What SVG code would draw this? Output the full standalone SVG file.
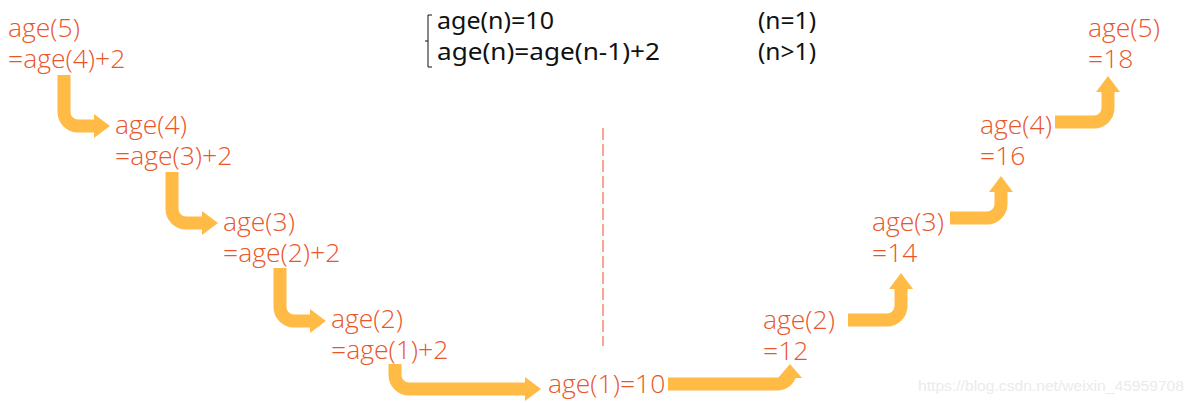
<svg xmlns="http://www.w3.org/2000/svg" width="1193" height="403" viewBox="0 0 1193 403">
<style>
.t{font-family:"Open Sans","Noto Sans","Liberation Sans",sans-serif;font-weight:350;font-size:26.5px;fill:#E9562B}
.f{font-family:"Noto Sans","Liberation Sans",sans-serif;font-size:23px;fill:#111}
.w{font-family:"Liberation Sans",Arial,sans-serif;font-size:15px;fill:#EBEBEB}
.a{fill:none;stroke:#FFBB46;stroke-width:13}
.h{fill:#FFBB46}
</style>
<rect width="1193" height="403" fill="#fff"/>
<g id="formula">
<path d="M432,15 H428 V67 H432 M428,41 H425" fill="none" stroke="#111" stroke-width="1"/>
<text class="f" x="437" y="29" textLength="117" lengthAdjust="spacingAndGlyphs">age(n)=10</text>
<text class="f" x="437" y="60" textLength="223" lengthAdjust="spacingAndGlyphs">age(n)=age(n-1)+2</text>
<text class="f" x="758" y="29" textLength="58" lengthAdjust="spacingAndGlyphs">(n=1)</text>
<text class="f" x="758" y="60" textLength="58" lengthAdjust="spacingAndGlyphs">(n&gt;1)</text>
</g>
<line id="divider" x1="603" y1="128" x2="603" y2="346" stroke="#F4A893" stroke-width="2" stroke-dasharray="12 4"/>
<g id="connectors">
<path class="a" d="M64,75 V112 A14,14 0 0 0 78,126 H95"/>
<polygon class="h" points="94,114 110,126 94,138"/>
<path class="a" d="M172,172 V209 A14,14 0 0 0 186,223 H203"/>
<polygon class="h" points="202,211 218,223 202,235"/>
<path class="a" d="M280,268 V307 A14,14 0 0 0 294,321 H311"/>
<polygon class="h" points="310,309 326,321 310,333"/>
<path class="a" d="M395,364 V375 A14,14 0 0 0 409,389 H526"/>
<polygon class="h" points="525,377 541,389 525,401"/>
<path class="a" d="M668,384 H778 A12,12 0 0 0 790,372 V378"/>
<polygon class="h" points="778,378 790,364 802,378"/>
<path class="a" d="M848,320 H887 A14,14 0 0 0 901,306 V288"/>
<polygon class="h" points="889,289 901,273 913,289"/>
<path class="a" d="M950,218 H987 A14,14 0 0 0 1001,204 V191"/>
<polygon class="h" points="989,192 1001,176 1013,192"/>
<path class="a" d="M1055,122 H1094 A14,14 0 0 0 1108,108 V92"/>
<polygon class="h" points="1096,92 1108,76 1120,92"/>
</g>
<g id="L5"><text class="t" x="8" y="37">age(5)</text><text class="t" x="8" y="68">=age(4)+2</text></g>
<g id="L4"><text class="t" x="115" y="134">age(4)</text><text class="t" x="115" y="165">=age(3)+2</text></g>
<g id="L3"><text class="t" x="223" y="231">age(3)</text><text class="t" x="223" y="262">=age(2)+2</text></g>
<g id="L2"><text class="t" x="331" y="328">age(2)</text><text class="t" x="331" y="359">=age(1)+2</text></g>
<g id="A1"><text class="t" x="548" y="393">age(1)=10</text></g>
<g id="R2"><text class="t" x="763" y="329">age(2)</text><text class="t" x="763" y="360">=12</text></g>
<g id="R3"><text class="t" x="872" y="231">age(3)</text><text class="t" x="872" y="262">=14</text></g>
<g id="R4"><text class="t" x="980" y="134">age(4)</text><text class="t" x="980" y="165">=16</text></g>
<g id="R5"><text class="t" x="1088" y="37">age(5)</text><text class="t" x="1088" y="68">=18</text></g>
<text class="w" x="918" y="391" textLength="266" lengthAdjust="spacingAndGlyphs">https://blog.csdn.net/weixin_45959708</text>
</svg>
